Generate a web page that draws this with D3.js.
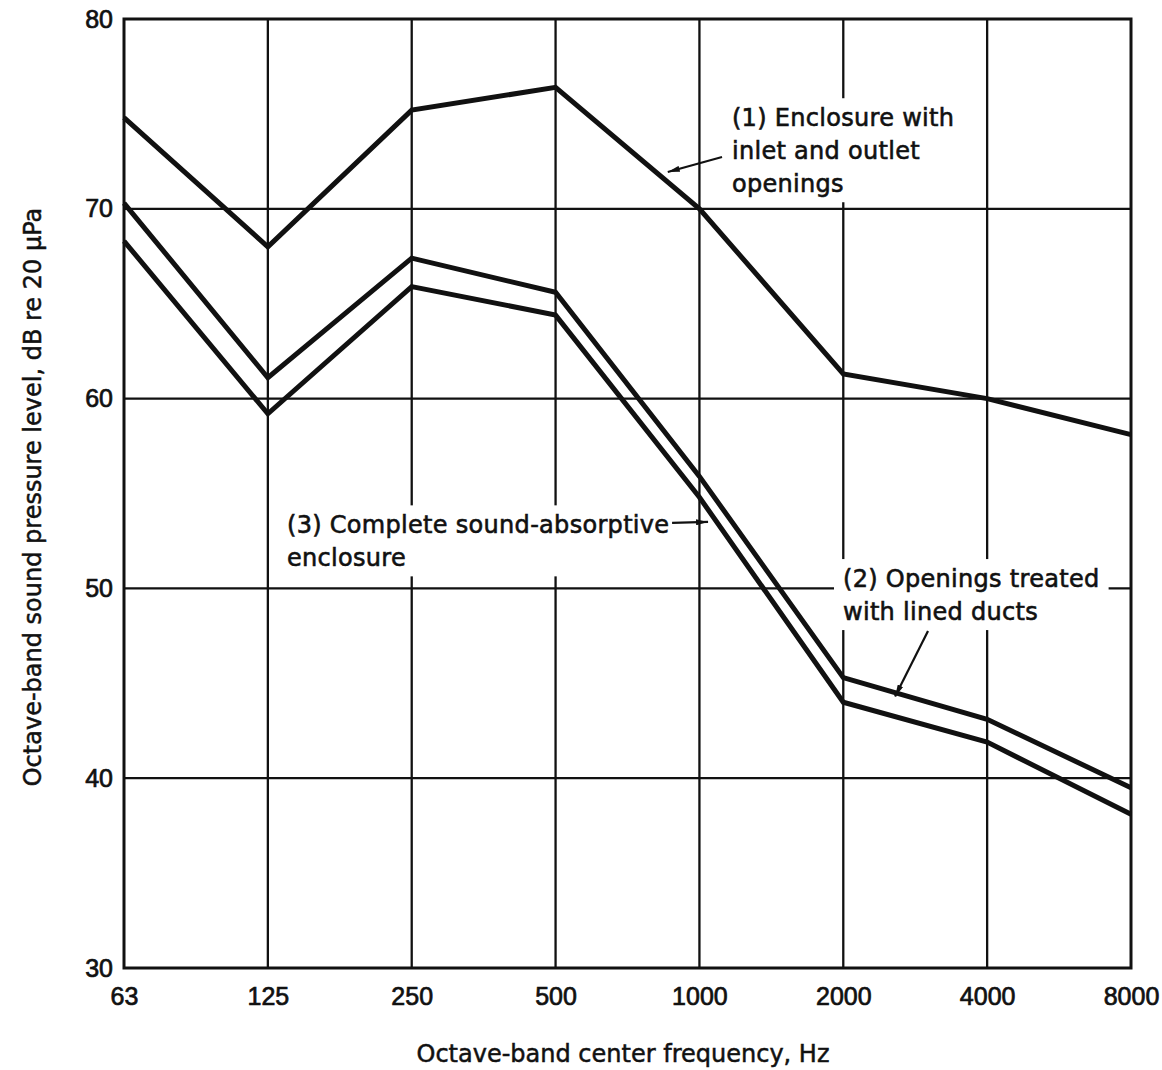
<!DOCTYPE html>
<html><head><meta charset="utf-8">
<script src="https://cdn.jsdelivr.net/npm/d3@7"></script>
<style>body{margin:0;background:#fff}</style>
</head><body>
<svg id="c" width="1162" height="1070"></svg>
<script>
// ---- data ----
const frequencies = ["63", "125", "250", "500", "1000", "2000", "4000", "8000"];
const yTicks = [30, 40, 50, 60, 70, 80];
const enclosureWithOpenings = [74.8, 68.0, 75.2, 76.4, 70.0, 61.3, 60.0, 58.1];
const openingsTreated      = [70.3, 61.1, 67.4, 65.6, 55.9, 45.3, 43.1, 39.5];
const completeAbsorptive   = [68.3, 59.2, 65.9, 64.4, 54.8, 44.0, 41.9, 38.1];
const annotationLines = [
  ["(1) Enclosure with", "inlet and outlet", "openings"],
  ["(2) Openings treated", "with lined ducts"],
  ["(3) Complete sound-absorptive", "enclosure"]
];
const xTitle = "Octave-band center frequency, Hz";
const yTitle = "Octave-band sound pressure level, dB re 20 \u03bcPa";

// ---- layout ----
const W = 1162, H = 1070;
const L = 124, R = 1131, T = 19, B = 968;
const ink = "#111";
const txtFont = "'DejaVu Sans', sans-serif";
const svg = d3.select("#c");
svg.append("rect").attr("width", W).attr("height", H).attr("fill", "#fff");

const x = d3.scalePoint().domain(frequencies).range([L, R]);
const xi = d3.scaleLinear().domain([0, frequencies.length - 1]).range([L, R]);
const y = d3.scaleLinear().domain([30, 80]).range([B, T]);

// ---- grid ----
const grid = svg.append("g").attr("stroke", ink).attr("stroke-width", 2.3);
grid.selectAll("line.h").data(yTicks.slice(1, -1)).join("line")
  .attr("x1", L).attr("x2", R).attr("y1", d => y(d)).attr("y2", d => y(d));
grid.selectAll("line.v").data(frequencies.slice(1, -1)).join("line")
  .attr("y1", T).attr("y2", B).attr("x1", d => x(d)).attr("x2", d => x(d));
svg.append("rect").attr("x", L).attr("y", T).attr("width", R - L).attr("height", B - T)
  .attr("fill", "none").attr("stroke", ink).attr("stroke-width", 3);

// ---- axes ----
const ya = svg.append("g").attr("transform", `translate(${L},0)`)
  .call(d3.axisLeft(y).tickValues(yTicks).tickSize(0).tickPadding(11).tickFormat(d3.format("d")));
const xa = svg.append("g").attr("transform", `translate(0,${B})`)
  .call(d3.axisBottom(x).tickSize(0).tickPadding(19));
[ya, xa].forEach(g => {
  g.select(".domain").remove();
  g.selectAll("text").attr("font-family", "'Liberation Sans', Arial, sans-serif")
    .attr("font-size", 25).attr("fill", ink).attr("stroke", ink).attr("stroke-width", 0.7);
});

svg.append("text").attr("x", 623).attr("y", 1062).attr("text-anchor", "middle")
  .attr("font-family", txtFont).attr("font-size", 24).attr("fill", ink)
  .attr("stroke", ink).attr("stroke-width", 0.5).text(xTitle);
svg.append("text").attr("transform", "translate(41,497) rotate(-90)").attr("text-anchor", "middle")
  .attr("font-family", txtFont).attr("font-size", 24).attr("fill", ink)
  .attr("stroke", ink).attr("stroke-width", 0.5).text(yTitle);

// ---- annotation text with white backing ----
const annPos = [
  {i: 4.226, v: 74.35},
  {i: 4.998, v: 50.07},
  {i: 1.133, v: 52.90}
];
const lineH = 33;
const boxLayer = svg.append("g");
const curveLayer = svg.append("g");
const textLayer = svg.append("g");
annotationLines.forEach((lines, k) => {
  const p = annPos[k];
  const t = textLayer.append("text").attr("x", xi(p.i)).attr("y", y(p.v))
    .attr("font-family", txtFont).attr("font-size", 24).attr("fill", ink)
    .attr("stroke", ink).attr("stroke-width", 0.6).attr("letter-spacing", 0.3);
  lines.forEach((s, j) => t.append("tspan").attr("x", xi(p.i)).attr("dy", j ? lineH : 0).text(s));
  const bb = t.node().getBBox();
  boxLayer.append("rect").attr("x", bb.x - 9).attr("y", bb.y - 6)
    .attr("width", bb.width + 18).attr("height", bb.height + 10).attr("fill", "#fff");
});

// ---- curves ----
const line = d3.line().x((d, i) => x(frequencies[i])).y(d => y(d));
[enclosureWithOpenings, openingsTreated, completeAbsorptive].forEach(s => {
  curveLayer.append("path").attr("d", line(s)).attr("fill", "none")
    .attr("stroke", ink).attr("stroke-width", 5).attr("stroke-linejoin", "miter");
});

// ---- leader arrows ----
svg.append("defs").append("marker").attr("id", "ah").attr("viewBox", "0 0 12 6")
  .attr("refX", 12).attr("refY", 3).attr("markerWidth", 12).attr("markerHeight", 6)
  .attr("markerUnits", "userSpaceOnUse").attr("orient", "auto")
  .append("path").attr("d", "M0,0 L12,3 L0,6 Z").attr("fill", ink);
const leaders = [
  {i1: 4.157, v1: 72.73, i2: 3.78, v2: 71.94},
  {i1: 5.589, v1: 47.76, i2: 5.36, v2: 44.30},
  {i1: 3.81, v1: 53.45, i2: 4.06, v2: 53.50}
];
svg.append("g").selectAll("line").data(leaders).join("line")
  .attr("x1", d => xi(d.i1)).attr("y1", d => y(d.v1))
  .attr("x2", d => xi(d.i2)).attr("y2", d => y(d.v2))
  .attr("stroke", ink).attr("stroke-width", 2.2).attr("marker-end", "url(#ah)");
</script>
</body></html>
